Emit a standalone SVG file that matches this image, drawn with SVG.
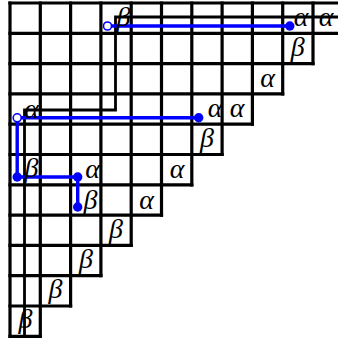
<svg xmlns="http://www.w3.org/2000/svg" width="338" height="340" viewBox="0 0 338 340">
<style>
.g{stroke:#000;stroke-width:3.2;stroke-linecap:square;fill:none}
.in{stroke:#000;stroke-width:2.8;fill:none}
.bl{stroke:#0000ff;stroke-width:3.4;fill:none}
.dot{fill:#0000ff}
.open{fill:#fff;stroke:#0000ff;stroke-width:1.6}
text{font-family:"Liberation Serif","DejaVu Serif",serif;font-style:italic;font-size:28px;fill:#000;text-anchor:middle}
</style>
<rect width="338" height="340" fill="#fff"/>
<g id="grid" class="g">
<path d="M10 3H343.3M10 33.3H343.3M10 63.6H313M10 93.9H282.7M10 124.2H252.4M10 154.5H222.1M10 184.8H191.8M10 215.1H161.5M10 245.4H131.2M10 275.7H100.9M10 306H70.6M10 336.3H40.3"/>
<path d="M10 3V336.3M40.3 3V336.3M70.6 3V306M100.9 3V275.7M131.2 3V245.4M161.5 3V215.1M191.8 3V184.8M222.1 3V154.5M252.4 3V124.2M282.7 3V93.9M313 3V63.6"/>
</g>
<g id="inner" class="in">
<path d="M343 17H115.5V110H24.5V336.3"/>
</g>
<g id="connectors" class="bl">
<path d="M107.5 26H289.8"/>
<path d="M198.7 117.8H17.2V177H77.7V207"/>
</g>
<g id="nodes">
<circle id="n1" class="open" cx="107.5" cy="26" r="4"/>
<circle id="n2" class="dot" cx="289.8" cy="26" r="4.7"/>
<circle id="n3" class="open" cx="17.2" cy="117.8" r="4"/>
<circle id="n4" class="dot" cx="198.7" cy="117.8" r="4.7"/>
<circle id="n5" class="dot" cx="17.2" cy="177" r="4.7"/>
<circle id="n6" class="dot" cx="77.7" cy="177" r="4.7"/>
<circle id="n7" class="dot" cx="77.7" cy="207" r="4.7"/>
</g>
<g id="labels">
<text x="301" y="26">α</text>
<text x="326" y="26">α</text>
<text x="123.5" y="25.5">β</text>
<text x="297.8" y="56">β</text>
<text x="267.5" y="86.5">α</text>
<text x="215" y="117">α</text>
<text x="237.2" y="117">α</text>
<text x="31.5" y="118">α</text>
<text x="207" y="146.8">β</text>
<text x="177" y="177.8">α</text>
<text x="31.5" y="177">β</text>
<text x="92.5" y="178">α</text>
<text x="146.5" y="208.5">α</text>
<text x="90.5" y="209">β</text>
<text x="116" y="237.8">β</text>
<text x="86" y="268">β</text>
<text x="55.5" y="298.2">β</text>
<text x="25.5" y="328.3">β</text>
</g>
</svg>
